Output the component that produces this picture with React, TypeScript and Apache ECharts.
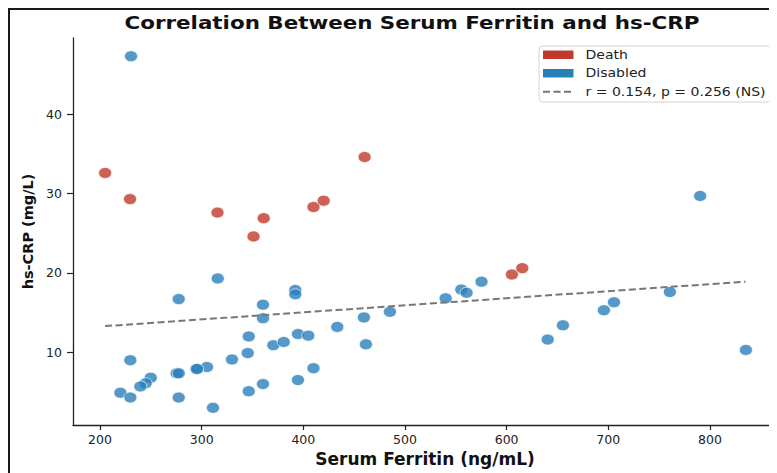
import React, { useEffect, useRef } from "react";
import * as echarts from "echarts";

const titleText = "Correlation Between Serum Ferritin and hs-CRP";
const xName = "Serum Ferritin (ng/mL)";
const yName = "hs-CRP (mg/L)";
const deathName = "Death";
const disabledName = "Disabled";
const fitName = "r = 0.154, p = 0.256 (NS)";

const xTicks = [200, 300, 400, 500, 600, 700, 800];
const yTicks = [10, 20, 30, 40];

const deathX = [205, 229.5, 315.5, 361, 351, 410, 420, 460.3, 605.2, 615.4];
const deathY = [32.6, 29.3, 27.6, 26.9, 24.6, 28.3, 29.1, 34.6, 19.8, 20.6];

const disabledX = [
  230.5, 315.8, 277.4, 392.1, 392.1, 360.3, 360.3, 346.3, 345.3, 370.5,
  380.7, 394.7, 404.9, 410, 394.7, 360.3, 346.3, 311.1, 329.8, 305.2,
  294.7, 295.5, 275.4, 277.4, 277.4, 229.8, 249.9, 244.9, 239.7, 220,
  229.8, 433.4, 459.6, 461.6, 485.2, 540, 555.4, 560.6, 575.3, 790.4,
  760.6, 705.6, 695.7, 655.4, 640.4, 835.4,
];
const disabledY = [
  47.3, 19.3, 16.7, 17.85, 17.3, 16.0, 14.3, 12.0, 9.9, 10.9,
  11.3, 12.3, 12.1, 8.0, 6.5, 6.0, 5.1, 3.0, 9.1, 8.15,
  7.9, 7.9, 7.35, 7.35, 4.3, 9.0, 6.8, 6.1, 5.7, 4.9,
  4.3, 13.2, 14.4, 11.0, 15.1, 16.8, 17.9, 17.5, 18.9, 29.7,
  17.6, 16.3, 15.3, 13.4, 11.6, 10.3,
];

const fitX = [205, 835];
const fitY = [13.3, 18.9];

const RED = "#c0392b";
const BLUE = "#2980b9";
const FONT = "'DejaVu Sans', Verdana, sans-serif";

const pairs = (xs: number[], ys: number[]) => xs.map((x, i) => [x, ys[i]]);

export default function App() {
  const ref = useRef<HTMLDivElement>(null);

  useEffect(() => {
    if (!ref.current) return;
    const chart = echarts.init(ref.current, null, { renderer: "svg" });
    const axisColor = "#222";
    chart.setOption({
      animation: false,
      backgroundColor: "#fff",
      grid: { left: 63, top: 28, right: 0, bottom: 48, containLabel: false },
      xAxis: {
        type: "value",
        min: 173.4,
        max: 866,
        name: xName,
        nameLocation: "middle",
        nameGap: 24,
        nameTextStyle: { fontFamily: FONT, fontWeight: "bold", fontSize: 17, color: "#111" },
        axisLine: { show: true, lineStyle: { color: axisColor, width: 1.3 } },
        axisTick: { show: true, customValues: xTicks, length: 5, lineStyle: { color: axisColor, width: 1.2 } },
        axisLabel: { customValues: xTicks, fontFamily: FONT, fontSize: 12.5, color: "#222", margin: 8 },
        splitLine: { show: false },
      },
      yAxis: {
        type: "value",
        min: 0.84,
        max: 49.6,
        name: yName,
        nameLocation: "middle",
        nameGap: 38,
        nameTextStyle: { fontFamily: FONT, fontWeight: "bold", fontSize: 14.5, color: "#111" },
        axisLine: { show: true, lineStyle: { color: axisColor, width: 1.3 } },
        axisTick: { show: true, customValues: yTicks, length: 6, lineStyle: { color: axisColor, width: 1.2 } },
        axisLabel: { customValues: yTicks, fontFamily: FONT, fontSize: 12.5, color: "#222", margin: 11 },
        splitLine: { show: false },
      },
      series: [
        {
          name: deathName,
          type: "scatter",
          data: pairs(deathX, deathY),
          symbolSize: [13, 11],
          itemStyle: { color: RED, opacity: 0.8, borderColor: "#fff", borderWidth: 0.8 },
          z: 2,
        },
        {
          name: disabledName,
          type: "scatter",
          data: pairs(disabledX, disabledY),
          symbolSize: [13, 11],
          itemStyle: { color: BLUE, opacity: 0.8, borderColor: "#fff", borderWidth: 0.8 },
          z: 2,
        },
        {
          name: fitName,
          type: "line",
          data: pairs(fitX, fitY),
          symbol: "none",
          lineStyle: { color: "#777", width: 2, type: [7, 3.5] },
          z: 3,
        },
      ],
      graphic: [
        {
          type: "text",
          x: 402,
          y: 13.5,
          scaleX: 1.19,
          style: {
            text: titleText,
            font: `bold 18px ${FONT}`,
            fill: "#111",
            textAlign: "center",
            textVerticalAlign: "middle",
          },
        },
        {
          type: "group",
          x: 529,
          y: 36,
          children: [
            {
              type: "rect",
              shape: { x: 0, y: 0, width: 232, height: 56, r: 4 },
              style: { fill: "rgba(255,255,255,0.85)", stroke: "#d4d4d4", lineWidth: 1 },
            },
            {
              type: "rect",
              shape: { x: 4, y: 4.5, width: 30.5, height: 8.5 },
              style: { fill: RED },
            },
            {
              type: "text",
              x: 46.5,
              y: 8.7,
              scaleX: 1.17,
              style: { text: deathName, font: `12px ${FONT}`, fill: "#222", textAlign: "left", textVerticalAlign: "middle" },
            },
            {
              type: "rect",
              shape: { x: 4, y: 23, width: 30.5, height: 8.5 },
              style: { fill: BLUE },
            },
            {
              type: "text",
              x: 46.5,
              y: 27.3,
              scaleX: 1.17,
              style: { text: disabledName, font: `12px ${FONT}`, fill: "#222", textAlign: "left", textVerticalAlign: "middle" },
            },
            {
              type: "line",
              shape: { x1: 4, y1: 45.7, x2: 34, y2: 45.7 },
              style: { stroke: "#777", lineWidth: 2, lineDash: [7, 3.5] },
            },
            {
              type: "text",
              x: 46.5,
              y: 45.7,
              scaleX: 1.17,
              style: { text: fitName, font: `12px ${FONT}`, fill: "#222", textAlign: "left", textVerticalAlign: "middle" },
            },
          ],
        },
      ],
    });
    return () => chart.dispose();
  }, []);

  return (
    <div
      style={{
        width: 769,
        height: 465,
        borderLeft: "2px solid #1a1a1a",
        borderTop: "2px solid #1a1a1a",
        boxSizing: "border-box",
        overflow: "hidden",
        background: "#fff",
      }}
    >
      <div ref={ref} style={{ width: 767, height: 463 }} />
    </div>
  );
}
